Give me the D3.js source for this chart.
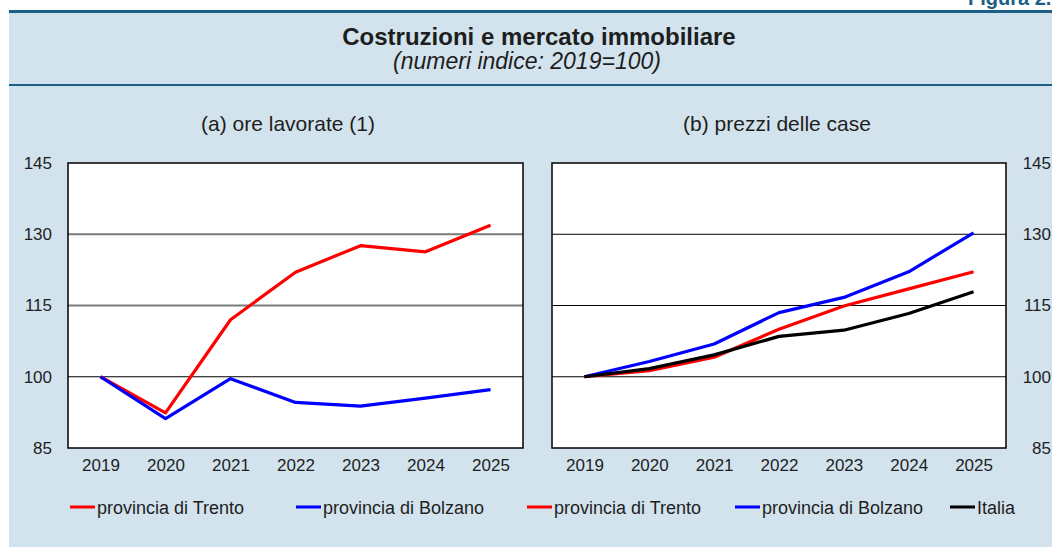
<!DOCTYPE html>
<html>
<head>
<meta charset="utf-8">
<script src="https://cdn.jsdelivr.net/npm/d3@7"></script>
<style>
  body { margin: 0; background: #fff; }
  svg { display: block; font-family: "Liberation Sans", Arial, Helvetica, sans-serif; }
</style>
</head>
<body>
<svg id="chart" width="1052" height="547"></svg>
<script>
const years = ["2019", "2020", "2021", "2022", "2023", "2024", "2025"];
const y_ticks = [85, 100, 115, 130, 145];

// (a) ore lavorate
const ore_trento  = [100, 92.4, 112.0, 122.0, 127.6, 126.3, 131.9];
const ore_bolzano = [100, 91.2, 99.6, 94.6, 93.8, 95.5, 97.3];

// (b) prezzi delle case
const prezzi_trento  = [100, 101.3, 104.1, 110.0, 114.9, 118.5, 122.1];
const prezzi_bolzano = [100, 103.2, 106.9, 113.5, 116.7, 122.1, 130.3];
const prezzi_italia  = [100, 101.7, 104.6, 108.5, 109.8, 113.3, 117.9];

const legend_items = [
    {label: "provincia di Trento",  color: "#ff0000"},
    {label: "provincia di Bolzano", color: "#0000ff"},
    {label: "provincia di Trento",  color: "#ff0000"},
    {label: "provincia di Bolzano", color: "#0000ff"},
    {label: "Italia",               color: "#000000"}
];

const svg = d3.select("#chart");
const W = 1052, H = 547;
const panel_bg = "#d2e3ed", dark_blue = "#1b5e86", txt = "#1e1e1e";

svg.append("rect").attr("width", W).attr("height", H).attr("fill", "#fff");

svg.append("text")
    .attr("x", 968).attr("y", 5)
    .attr("font-size", 20).attr("font-weight", "bold")
    .attr("fill", dark_blue)
    .text("Figura 2.");

svg.append("rect")
    .attr("x", 9).attr("y", 12)
    .attr("width", W - 9).attr("height", H - 12)
    .attr("fill", panel_bg);

svg.append("rect").attr("x", 9).attr("y", 10).attr("width", W - 9).attr("height", 3).attr("fill", dark_blue);
svg.append("rect").attr("x", 9).attr("y", 84).attr("width", W - 9).attr("height", 2).attr("fill", dark_blue);

svg.append("text")
    .attr("x", 539).attr("y", 45)
    .attr("text-anchor", "middle")
    .attr("font-size", 24).attr("font-weight", "bold")
    .attr("fill", txt)
    .text("Costruzioni e mercato immobiliare");

svg.append("text")
    .attr("x", 527).attr("y", 69)
    .attr("text-anchor", "middle")
    .attr("font-size", 23).attr("font-style", "italic")
    .attr("fill", txt)
    .text("(numeri indice: 2019=100)");

const y = d3.scaleLinear().domain([85, 145]).range([448, 163]);

function drawPanel({left, right, title, title_x, series, grid_colors, axis_side}) {
    const x = d3.scalePoint().domain(years).range([left, right]).padding(0.5);
    const g = svg.append("g");

    g.append("text")
        .attr("x", title_x).attr("y", 131)
        .attr("text-anchor", "middle")
        .attr("font-size", 21)
        .attr("fill", txt)
        .text(title);

    g.append("rect")
        .attr("x", left).attr("y", y(145))
        .attr("width", right - left).attr("height", y(85) - y(145))
        .attr("fill", "#fff");

    g.selectAll(".grid")
        .data([100, 115, 130])
        .enter().append("line")
        .attr("class", "grid")
        .attr("x1", left).attr("x2", right)
        .attr("y1", d => y(d)).attr("y2", d => y(d))
        .attr("stroke", d => grid_colors[d])
        .attr("stroke-width", d => grid_colors[d] === "#000" ? 1 : 1.8);

    const line = d3.line()
        .x((d, i) => x(years[i]))
        .y(d => y(d));

    g.selectAll(".serie")
        .data(series)
        .enter().append("path")
        .attr("class", "serie")
        .attr("d", d => line(d.values))
        .attr("fill", "none")
        .attr("stroke", d => d.color)
        .attr("stroke-width", 3.2)
        .attr("stroke-linejoin", "round");

    g.append("rect")
        .attr("x", left).attr("y", y(145))
        .attr("width", right - left).attr("height", y(85) - y(145))
        .attr("fill", "none")
        .attr("stroke", "#000")
        .attr("stroke-width", 1.5);

    const xAxis = g.append("g")
        .attr("transform", "translate(0," + y(85) + ")")
        .call(d3.axisBottom(x).tickSize(0).tickPadding(11));
    xAxis.select(".domain").remove();
    xAxis.selectAll("text").attr("font-size", 17).attr("fill", txt).attr("font-family", null);

    let yAxis;
    if (axis_side === "left") {
        yAxis = g.append("g")
            .attr("transform", "translate(" + left + ",0)")
            .call(d3.axisLeft(y).tickValues(y_ticks).tickSize(0).tickPadding(16));
    } else {
        yAxis = g.append("g")
            .attr("transform", "translate(" + right + ",0)")
            .call(d3.axisRight(y).tickValues(y_ticks).tickSize(0).tickPadding(45));
        yAxis.selectAll("text").attr("text-anchor", "end");
    }
    yAxis.select(".domain").remove();
    yAxis.selectAll("text").attr("font-size", 17).attr("fill", txt).attr("font-family", null);
}

drawPanel({
    left: 68, right: 523,
    title: "(a) ore lavorate (1)", title_x: 288,
    series: [
        {values: ore_trento,  color: "#ff0000"},
        {values: ore_bolzano, color: "#0000ff"}
    ],
    grid_colors: {100: "#000", 115: "#7a7a7a", 130: "#7a7a7a"},
    axis_side: "left"
});

drawPanel({
    left: 552, right: 1006,
    title: "(b) prezzi delle case", title_x: 777,
    series: [
        {values: prezzi_trento,  color: "#ff0000"},
        {values: prezzi_bolzano, color: "#0000ff"},
        {values: prezzi_italia,  color: "#000000"}
    ],
    grid_colors: {100: "#000", 115: "#000", 130: "#000"},
    axis_side: "right"
});

// legenda
const legend_x = [70, 296, 527, 735, 950];
const legend = svg.selectAll(".legend")
    .data(legend_items)
    .enter().append("g")
    .attr("class", "legend")
    .attr("transform", (d, i) => "translate(" + legend_x[i] + ",507)");

legend.append("line")
    .attr("x1", 0).attr("x2", 25)
    .attr("stroke", d => d.color)
    .attr("stroke-width", 3);

legend.append("text")
    .attr("x", 27).attr("y", 6.5)
    .attr("font-size", 18)
    .attr("fill", txt)
    .text(d => d.label);
</script>
</body>
</html>
